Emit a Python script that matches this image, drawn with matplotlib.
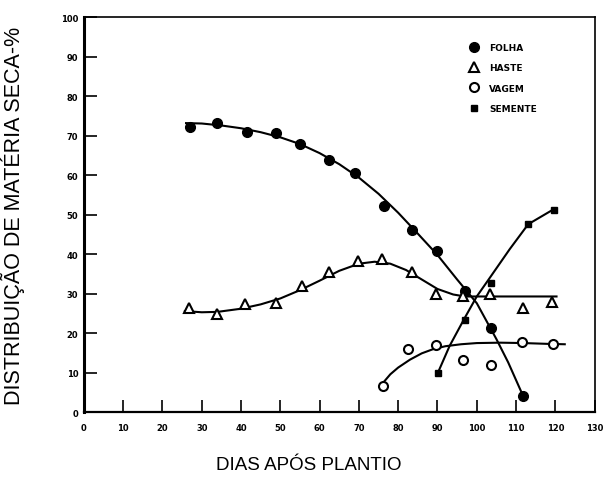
import numpy as np
import matplotlib
matplotlib.use('Agg')
import matplotlib.pyplot as plt

plt.rcParams.update({
    'font.family': 'DejaVu Sans',
})

# observed points (dias, %)
FOLHA_X = [27, 34, 41.5, 49, 55, 62.5, 69, 76.5, 83.5, 90, 97, 103.5, 111.8]
FOLHA_Y = [72.1, 73.2, 71.0, 70.8, 67.8, 63.8, 60.5, 52.1, 46.2, 40.8, 30.7, 21.4, 4.1]

HASTE_X = [26.7, 34, 41, 48.8, 55.5, 62.4, 69.8, 75.9, 83.4, 89.7, 96.5, 103.3, 111.8, 119.2]
HASTE_Y = [26.5, 24.8, 27.3, 27.6, 32.0, 35.4, 38.3, 38.7, 35.4, 29.9, 29.3, 30.0, 26.5, 27.8]

VAGEM_X = [76.2, 82.5, 89.6, 96.5, 103.6, 111.6, 119.4]
VAGEM_Y = [6.7, 16.1, 17.0, 13.2, 12.0, 17.8, 17.2]

SEMENTE_X = [90.2, 96.9, 103.6, 113.0, 119.6]
SEMENTE_Y = [9.9, 23.4, 32.8, 47.7, 51.3]

# fitted curves as drawn in the figure
FOLHA_CX = [26, 30, 35, 40, 45, 50, 55, 60, 65, 70, 75, 80, 85, 90, 95, 100, 105, 108, 111.8]
FOLHA_CY = [73.2, 73.1, 72.6, 71.9, 70.9, 69.6, 67.9, 65.6, 62.8, 59.4, 55.3, 50.5, 45.2, 39.8, 33.6, 27.6, 18.5, 12.6, 4.1]

HASTE_CX = [25.7, 30, 34, 40, 45, 50, 55, 60, 65, 70, 74, 78, 82, 86, 90, 94, 97, 120.3]
HASTE_CY = [25.6, 25.3, 25.4, 26.2, 27.3, 28.8, 30.9, 33.3, 35.8, 37.6, 38.1, 37.6, 36.0, 33.6, 31.2, 29.8, 29.3, 29.3]

VAGEM_CX = [76.2, 78, 80, 83, 86, 89, 92, 96, 100, 106, 112, 118, 122.4]
VAGEM_CY = [7.5, 9.6, 11.3, 13.3, 14.9, 16.0, 16.7, 17.2, 17.5, 17.6, 17.5, 17.3, 17.2]

SEMENTE_CX = [90.2, 93.1, 96.9, 100, 103.3, 108.4, 113.1, 119.6]
SEMENTE_CY = [10.2, 16.8, 23.8, 29.3, 34.0, 41.3, 47.6, 51.4]

XTICKS = list(range(0, 131, 10))
YTICKS = list(range(0, 101, 10))

fig = plt.figure(figsize=(6.08, 4.81), dpi=100)
ax = fig.add_axes([0.138, 0.141, 0.840, 0.821])

lw = 1.5
ax.plot(FOLHA_CX, FOLHA_CY, color='black', lw=lw)
ax.plot(HASTE_CX, HASTE_CY, color='black', lw=lw)
ax.plot(VAGEM_CX, VAGEM_CY, color='black', lw=lw)
ax.plot(SEMENTE_CX, SEMENTE_CY, color='black', lw=lw)

h1, = ax.plot(FOLHA_X, FOLHA_Y, 'o', ms=7, color='black', label='FOLHA')
h2, = ax.plot(HASTE_X, HASTE_Y, '^', ms=7, mfc='white', mec='black', mew=1.5, label='HASTE')
h3, = ax.plot(VAGEM_X, VAGEM_Y, 'o', ms=6.5, mfc='white', mec='black', mew=1.5, label='VAGEM')
h4, = ax.plot(SEMENTE_X, SEMENTE_Y, 's', ms=4.5, color='black', label='SEMENTE')

ax.set_xlim(0, 130)
ax.set_ylim(0, 100)
ax.set_xticks(XTICKS)
ax.set_yticks(YTICKS)
ax.set_xticklabels([str(v) for v in XTICKS], fontsize=6, fontweight='bold')
ax.set_yticklabels([str(v) for v in YTICKS], fontsize=6, fontweight='bold')
ax.tick_params(axis='both', direction='in', length=9, width=1.2, color='black')
ax.tick_params(axis='x', pad=8)
ax.tick_params(axis='y', pad=4)

for side in ['top', 'right']:
    ax.spines[side].set_linewidth(1.2)
ax.spines['left'].set_linewidth(2.2)
ax.spines['bottom'].set_linewidth(1.6)

ax.set_ylabel('DISTRIBUIÇÃO DE MATÉRIA SECA-%', fontsize=15.5, family='Liberation Sans')
ax.yaxis.set_label_coords(-0.139, 0.5)
ax.yaxis.label.set_va('center')
ax.set_xlabel('DIAS APÓS PLANTIO', fontsize=13.5, family='Liberation Sans')
ax.xaxis.set_label_coords(0.44, -0.132)
ax.xaxis.label.set_va('center')

leg = ax.legend(handles=[h1, h2, h3, h4], loc='upper left',
                bbox_to_anchor=(0.755, 0.935), frameon=False,
                prop={'size': 6.5, 'weight': 'bold'},
                handlelength=1.0, handletextpad=1.2, labelspacing=1.25,
                borderpad=0, borderaxespad=0)

plt.savefig('out.png', dpi=100)
